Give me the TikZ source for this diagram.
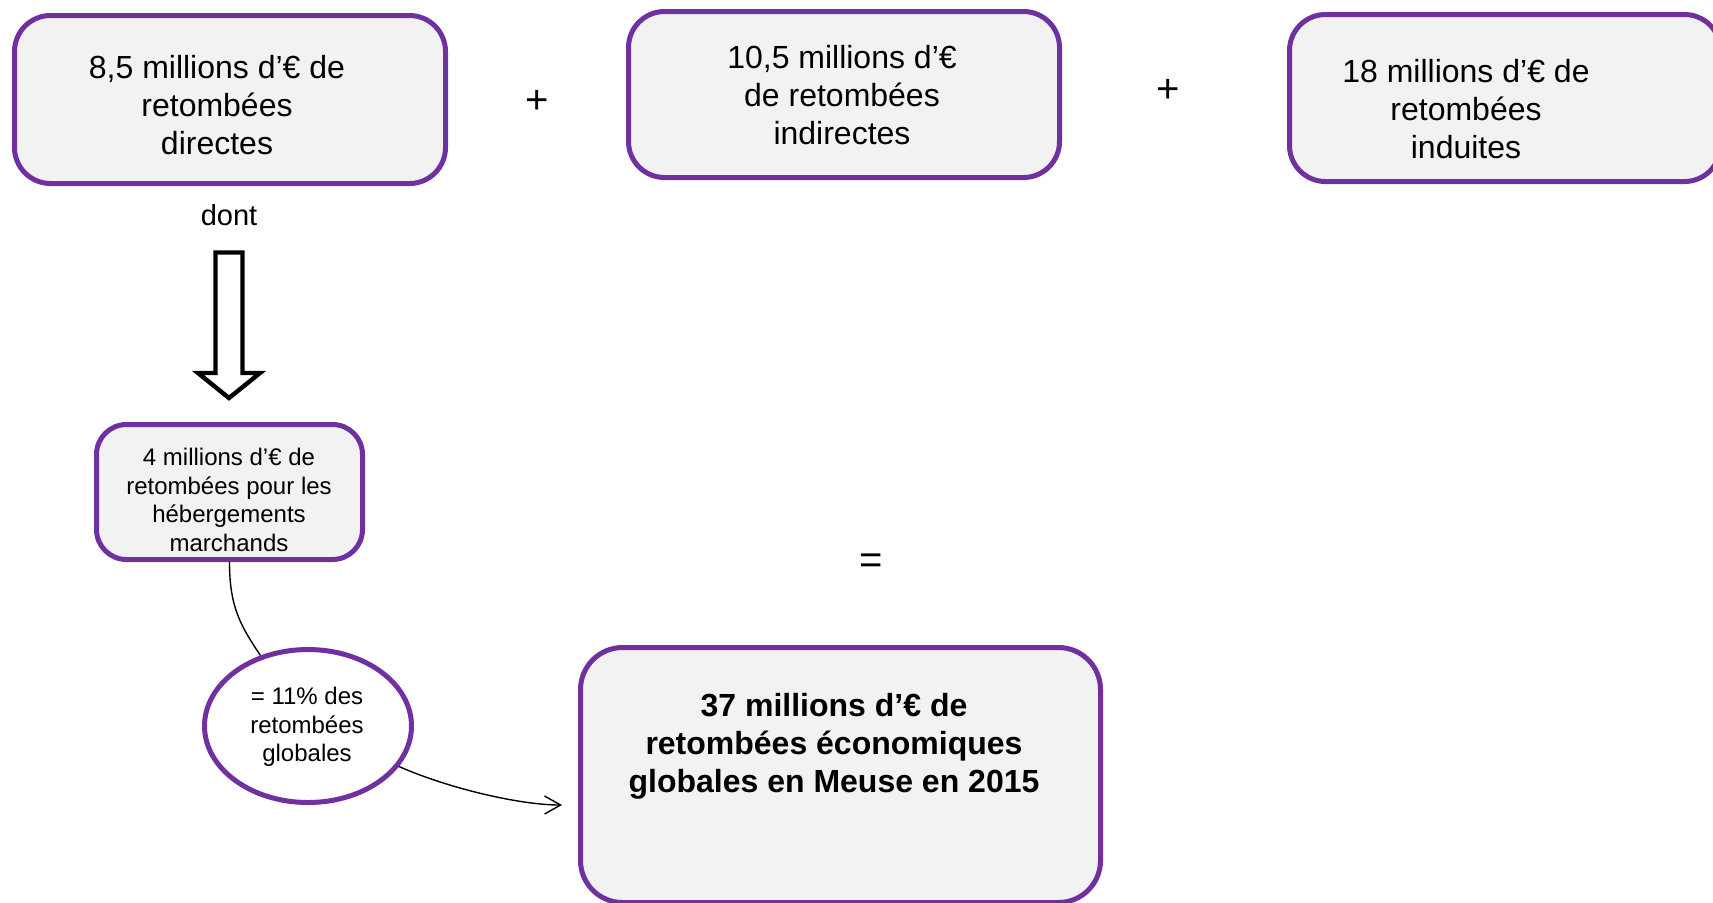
\documentclass[tikz,border=0pt]{standalone}
\usepackage{fontspec}
\setmainfont{Liberation Sans}
\usetikzlibrary{arrows.meta,shapes.geometric}
\definecolor{violetbord}{HTML}{7030A0}
\definecolor{grisfond}{HTML}{F2F2F2}
\tikzset{
  boite/.style={draw=violetbord, line width=2.5pt, fill=grisfond, rounded corners=18pt, inner sep=0pt},
  petiteboite/.style={boite, rounded corners=15pt},
  grandeboite/.style={boite, rounded corners=21pt},
  bulle/.style={draw=violetbord, line width=2.5pt, fill=white, ellipse, inner sep=0pt},
  grandtexte/.style={align=center, font=\fontsize{16}{19}\selectfont},
  petittexte/.style={align=center, font=\fontsize{12}{14.25}\selectfont},
  grastexte/.style={align=center, font=\fontsize{16}{19}\selectfont\bfseries},
  signe/.style={font=\fontsize{20}{24}\selectfont},
  lien/.style={draw=black, line width=0.7pt},
  fleche/.style={lien, -{Straight Barb[length=8pt,width=9pt,line width=0.7pt]}},
  grossefleche/.style={draw=black, fill=white, line width=2.2pt, line join=miter}
}
\begin{document}
\begin{tikzpicture}[x=0.5pt,y=-0.5pt]
\useasboundingbox (0,0) rectangle (1713,902);
\clip (0,0) rectangle (1713,902);
% top boxes
\node[boite, minimum width=215.5pt, minimum height=84pt] (b1) at (230,99.5) {};
\node[grandtexte] (t1) at (217,105) {8,5 millions d’€ de\\retombées\\directes};
\node[boite, minimum width=215.5pt, minimum height=83pt] (b2) at (844,94.5) {};
\node[grandtexte] (t2) at (842,95) {10,5 millions d’€\\de retombées\\indirectes};
\node[boite, minimum width=215.5pt, minimum height=83.5pt] (b3) at (1505,98) {};
\node[grandtexte] (t3) at (1466,109) {18 millions d’€ de\\retombées\\induites};
\node[signe] (p1) at (537,102) {+};
\node[signe] (p2) at (1168,91) {+};
% dont + hollow arrow
\node[font=\fontsize{14.5}{17}\selectfont] (dont) at (229,215) {dont};
\draw[grossefleche] (215.5,252.5) -- (242.5,252.5) -- (242.5,373) -- (260,373)
  -- (229,398) -- (198,373) -- (215.5,373) -- cycle;
% box 4
\node[petiteboite, minimum width=133pt, minimum height=67.5pt] (b4) at (229.5,492) {};
\node[petittexte] (t4) at (229,500) {4 millions d’€ de\\retombées pour les\\hébergements\\marchands};
% ellipse
\node[bulle, minimum width=103.5pt, minimum height=76.5pt] (ell) at (308,726) {};
\node[petittexte] (te) at (307,727) {= 11\% des\\retombées\\globales};
% equal sign
\node[signe] (eq) at (871,564) {=};
% big box
\node[grandeboite, minimum width=260pt, minimum height=127.5pt] (big) at (840.5,775) {};
\node[grastexte] (tb) at (834,746) {37 millions d’€ de\\retombées économiques\\globales en Meuse en 2015};
% connectors
\coordinate (pointe) at (562,805);
\draw[lien] (b4.south) .. controls +(0,45) and +(-20,-30) .. (ell.124);
\draw[fleche] (ell.-24) .. controls +(50,22) and +(-42,0) .. (pointe);
\end{tikzpicture}
\end{document}
